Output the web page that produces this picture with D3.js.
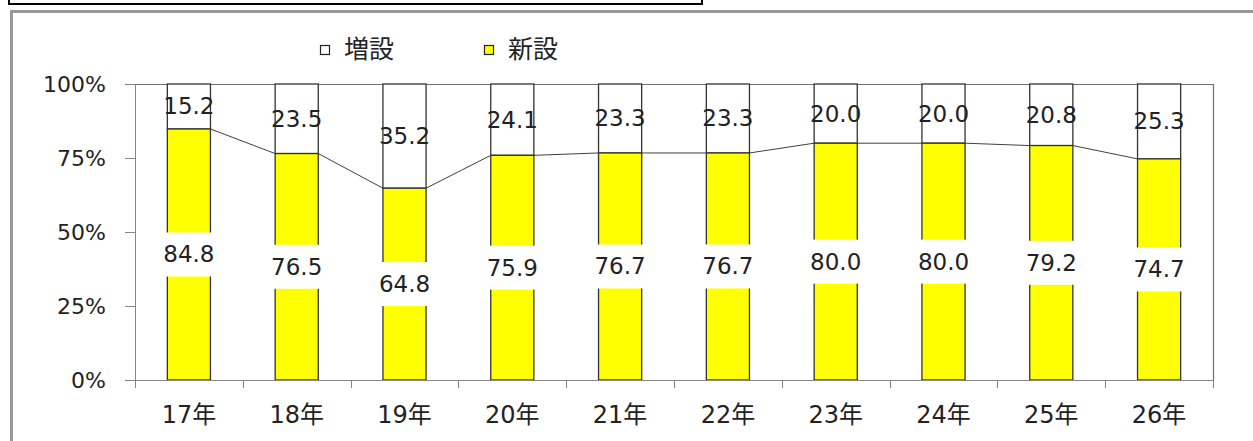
<!DOCTYPE html>
<html><head><meta charset="utf-8">
<script src="https://cdn.jsdelivr.net/npm/d3@7"></script>
<style>
html,body{margin:0;padding:0;background:#fff;}
svg{display:block;font-family:"DejaVu Sans","Noto Sans CJK JP",sans-serif;}
</style></head>
<body>
<script>
const categories = ["17年","18年","19年","20年","21年","22年","23年","24年","25年","26年"];
const shinsetsu = [84.8,76.5,64.8,75.9,76.7,76.7,80.0,80.0,79.2,74.7];
const zousetsu = [15.2,23.5,35.2,24.1,23.3,23.3,20.0,20.0,20.8,25.3];
const yTicks = [0,25,50,75,100];
const seriesNames = ["増設","新設"];

const W = 1253, H = 441;
const svg = d3.select("body").append("svg").attr("width",W).attr("height",H);

// outer decorations
svg.append("rect").attr("x",9).attr("y",-10).attr("width",693).attr("height",14)
  .attr("fill","none").attr("stroke","#000").attr("stroke-width",2);
svg.append("rect").attr("x",11.5).attr("y",11.5).attr("width",1300).attr("height",600)
  .attr("fill","none").attr("stroke","#999").attr("stroke-width",3);

const pL = 135, pR = 1213, pT = 84, pB = 380;
const x = d3.scaleBand().domain(categories).range([pL,pR]).padding(0);
const y = d3.scaleLinear().domain([0,100]).range([pB,pT]);
const bw = x.bandwidth()*0.4;
const bx = c => x(c) + (x.bandwidth()-bw)/2;

// plot border top/right
svg.append("path").attr("d",`M${pL},${pT+0.5}H${pR+0.5}V${pB}`)
  .attr("fill","none").attr("stroke","#707070").attr("stroke-width",1.2);

const data = categories.map((c,i)=>({c, s:shinsetsu[i], z:zousetsu[i]}));

// bars
const g = svg.append("g");
g.selectAll(".z").data(data).join("rect")
  .attr("x",d=>bx(d.c)).attr("width",bw)
  .attr("y",d=>y(d.s+d.z)).attr("height",d=>y(d.s)-y(d.s+d.z))
  .attr("fill","#fff").attr("stroke","#333").attr("stroke-width",1.3);
g.selectAll(".s").data(data).join("rect")
  .attr("x",d=>bx(d.c)).attr("width",bw)
  .attr("y",d=>y(d.s)).attr("height",d=>y(0)-y(d.s))
  .attr("fill","#ffff00").attr("stroke","#333").attr("stroke-width",1.3);

// series lines
for(let i=0;i<data.length-1;i++){
  svg.append("line")
    .attr("x1",bx(data[i].c)+bw).attr("y1",y(data[i].s))
    .attr("x2",bx(data[i+1].c)).attr("y2",y(data[i+1].s))
    .attr("stroke","#404040").attr("stroke-width",1);
}

// axes
const yAxis = d3.axisLeft(y).tickValues(yTicks).tickSize(10).tickFormat(d=>d+"%");
const ya = svg.append("g").attr("transform",`translate(${pL},0)`).call(yAxis);
ya.select(".domain").attr("stroke","#868686").attr("d",`M0.5,${pB}V${pT}`);
ya.selectAll(".tick line").attr("stroke","#868686");
ya.selectAll(".tick text").attr("font-size",22).attr("fill","#222").attr("x",-29)
  .attr("font-family","DejaVu Sans");

const xa = svg.append("g").attr("transform",`translate(0,${pB})`);
xa.append("path").attr("d",`M${pL},0.5H${pR}`).attr("stroke","#868686");
const bounds = categories.map(c=>x(c)).concat([pR]);
xa.selectAll("line").data(bounds).join("line")
  .attr("x1",d=>Math.round(d)+0.5).attr("x2",d=>Math.round(d)+0.5)
  .attr("y1",0).attr("y2",8).attr("stroke","#868686");
xa.selectAll("text").data(categories).join("text")
  .attr("x",c=>x(c)+x.bandwidth()/2).attr("y",35)
  .attr("text-anchor","middle").attr("dominant-baseline","central")
  .attr("font-size",24).attr("fill","#222").text(c=>c);

// labels for 新設 with white boxes
const lab = svg.append("g");
data.forEach(d=>{
  const cx = x(d.c)+x.bandwidth()/2, cy = y(d.s/2);
  lab.append("rect").attr("x",cx-32).attr("y",cy-22).attr("width",64).attr("height",44).attr("fill","#fff");
  lab.append("text").attr("x",cx).attr("y",cy).attr("text-anchor","middle")
    .attr("dominant-baseline","central").attr("font-size",23).attr("fill","#222")
    .text(d.s.toFixed(1));
  const cz = y(d.s + d.z/2);
  lab.append("text").attr("x",cx).attr("y",cz).attr("text-anchor","middle")
    .attr("dominant-baseline","central").attr("font-size",23).attr("fill","#222")
    .text(d.z.toFixed(1));
});

// legend
const lg = svg.append("g");
const legendItems = [{n:seriesNames[0], fill:"#fff", x:320},{n:seriesNames[1], fill:"#ffff00", x:484}];
legendItems.forEach(it=>{
  lg.append("rect").attr("x",it.x+0.5).attr("y",45.5).attr("width",9).attr("height",9)
    .attr("fill",it.fill).attr("stroke","#222").attr("stroke-width",1.2);
  lg.append("text").attr("x",it.x+24).attr("y",47).attr("dominant-baseline","central")
    .attr("font-size",25).attr("fill","#222").attr("font-family","Noto Sans CJK JP").text(it.n);
});
</script>
</body></html>
